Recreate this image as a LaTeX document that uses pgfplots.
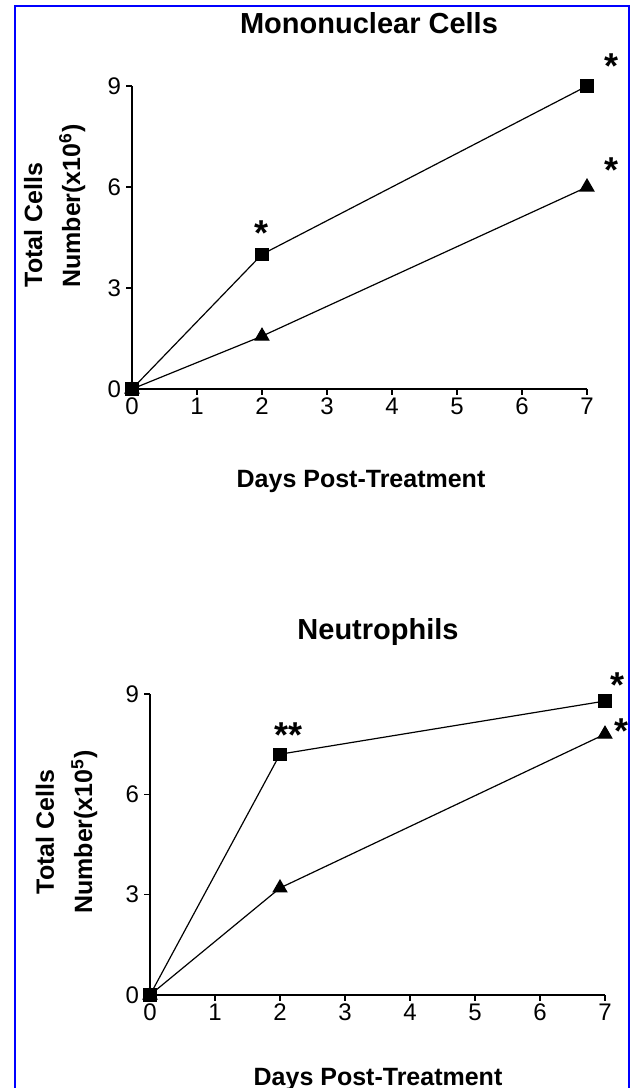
\documentclass[border=0pt]{standalone}
\usepackage{fontspec}
\setmainfont{Liberation Sans}
\usepackage{pgfplots}
\pgfplotsset{compat=1.18}

% 1 px of the reference = 0.5pt
\pgfplotsset{
  panel/.style={
    scale only axis, width=227.5pt,
    xmin=0, xmax=7, ymin=0, ymax=9,
    axis x line=bottom, axis y line=left,
    axis line style={-, line width=0.8pt},
    tick align=outside, major tick length=2.8pt,
    tick style={line width=0.8pt, black},
    xtick={0,...,7}, ytick={0,3,6,9},
    every tick label/.append style={font=\fontsize{12}{13}\selectfont},
    xticklabel style={inner sep=1.5pt},
    yticklabel style={inner sep=2.5pt},
    /pgf/number format/assume math mode=true,
    clip=false,
  },
  sq/.style={black, line width=0.6pt, mark=square*, mark size=3pt, mark options={solid}},
  tri/.style={black, line width=0.6pt, mark=triangle*, mark size=3.9pt, mark options={solid}},
}
\tikzset{star/.style={font=\fontsize{18}{18}\selectfont\bfseries, inner sep=0pt}}
\newcommand\titlefont{\fontsize{14.5}{16}\selectfont\bfseries}
\newcommand\labfont{\fontsize{12.5}{14}\selectfont\bfseries}

\begin{document}
\begin{tikzpicture}
\useasboundingbox (0pt,0pt) rectangle (315.5pt,-544pt);
\fill[white] (0pt,0pt) rectangle (315.5pt,-544pt);
\draw[blue, line width=1.2pt] (7.5pt,-544pt) -- (7.5pt,-3pt) -- (314.5pt,-3pt) -- (314.5pt,-544pt);

% Mononuclear cells
\begin{axis}[panel, height=151.5pt, at={(66pt,-194.5pt)}, anchor=south west]
\addplot[sq] coordinates {(0,0) (2,4.0) (7,9.0)};
\addplot[tri] coordinates {(0,0) (2,1.57) (7,6.0)};
\node[star] at (axis cs:2,4.63) {*};
\node[star] at (axis cs:7.37,9.59) {*};
\node[star] at (axis cs:7.37,6.50) {*};
\end{axis}
\node[anchor=base, font=\titlefont] at (184.5pt,-16.5pt) {Mononuclear Cells};
\node[anchor=base, font=\labfont] at (180.5pt,-243.5pt) {Days Post-Treatment};
\node[anchor=base, rotate=90, font=\labfont] at (21pt,-112.5pt) {Total Cells};
\node[anchor=base, rotate=90, font=\labfont] at (40pt,-103pt) {Number(x10\textsuperscript{6})};

% Neutrophils
\begin{axis}[panel, height=150.5pt, at={(75pt,-497.5pt)}, anchor=south west]
\addplot[sq] coordinates {(0,0) (2,7.2) (7,8.79)};
\addplot[tri] coordinates {(0,0) (2,3.2) (7,7.8)};
\node[star] at (axis cs:2.13,7.76) {**};
\node[star] at (axis cs:7.2,9.26) {*};
\node[star] at (axis cs:7.25,7.89) {*};
\end{axis}
\node[anchor=base, font=\titlefont] at (189pt,-319.5pt) {Neutrophils};
\node[anchor=base, font=\labfont] at (189pt,-542.5pt) {Days Post-Treatment};
\node[anchor=base, rotate=90, font=\labfont] at (27pt,-416pt) {Total Cells};
\node[anchor=base, rotate=90, font=\labfont] at (46pt,-416pt) {Number(x10\textsuperscript{5})};
\end{tikzpicture}
\end{document}
